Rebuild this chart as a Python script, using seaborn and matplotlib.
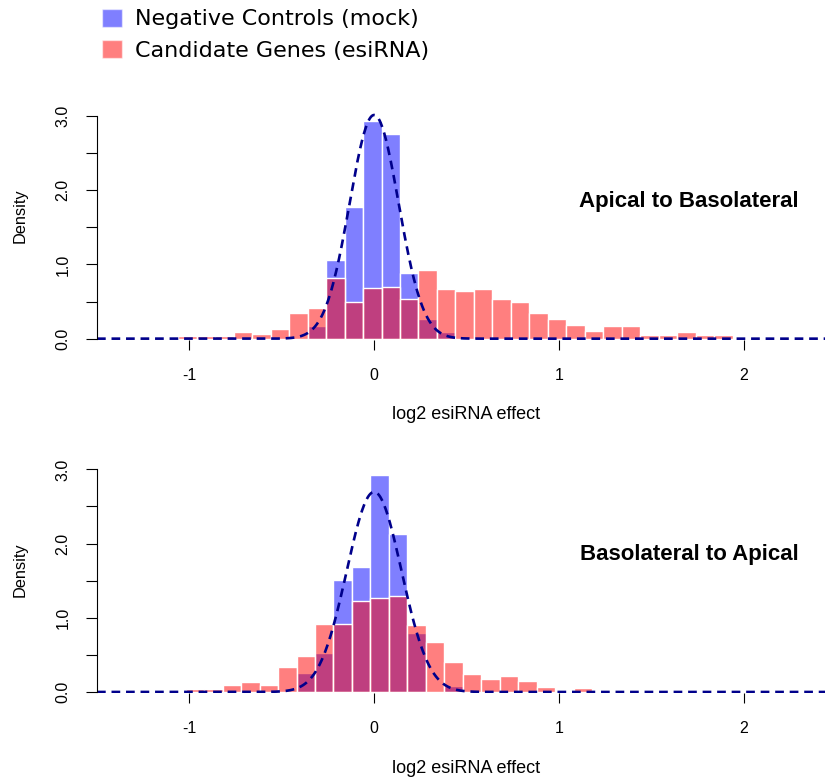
import numpy as np
import pandas as pd
import matplotlib
matplotlib.use("Agg")
import matplotlib.pyplot as plt
import seaborn as sns
from matplotlib.patches import Patch

# ---------------- data ----------------
# Panel 1: Apical to Basolateral
top_edges = [-1.06, -0.96, -0.86, -0.76, -0.66, -0.56, -0.46, -0.36, -0.26, -0.16,
             -0.06, 0.04, 0.14, 0.24, 0.34, 0.44, 0.54, 0.64, 0.74, 0.84,
             0.94, 1.04, 1.14, 1.24, 1.34, 1.44, 1.54, 1.64, 1.74, 1.84, 1.94]
top_candidate = [0.036, 0.036, 0.036, 0.086, 0.063, 0.135, 0.34, 0.41, 0.82, 0.50,
                 0.68, 0.69, 0.54, 0.925, 0.67, 0.64, 0.67, 0.53, 0.49, 0.34,
                 0.26, 0.18, 0.10, 0.17, 0.17, 0.05, 0.05, 0.086, 0.05, 0.05]
top_control = [0, 0, 0, 0, 0, 0, 0, 0.175, 1.06, 1.77,
               2.93, 2.76, 0.88, 0.265, 0.086, 0, 0, 0, 0, 0,
               0, 0, 0, 0, 0, 0, 0, 0, 0, 0]
top_mean, top_sd = 0.0, 0.1325

# Panel 2: Basolateral to Apical
bot_edges = [-1.02, -0.92, -0.82, -0.72, -0.62, -0.52, -0.42, -0.32, -0.22, -0.12,
             -0.02, 0.08, 0.18, 0.28, 0.38, 0.48, 0.58, 0.68, 0.78, 0.88,
             0.98, 1.08, 1.18]
bot_candidate = [0.036, 0.036, 0.094, 0.14, 0.094, 0.33, 0.49, 0.92, 0.91, 1.23,
                 1.26, 1.30, 0.90, 0.67, 0.40, 0.24, 0.17, 0.22, 0.15, 0.063,
                 0.0, 0.05]
bot_control = [0, 0, 0, 0, 0, 0, 0.256, 0.525, 1.51, 1.68,
               2.93, 2.13, 0.795, 0.0, 0.08, 0, 0, 0, 0, 0,
               0, 0]
bot_mean, bot_sd = 0.0, 0.148

panel_titles = ["Apical to Basolateral", "Basolateral to Apical"]
legend_labels = ["Negative Controls (mock)", "Candidate Genes (esiRNA)"]
x_ticks = [-1, 0, 1, 2]
x_ticklabels = ["-1", "0", "1", "2"]
y_ticks = [0, 1, 2, 3]
y_ticklabels = ["0.0", "1.0", "2.0", "3.0"]
y_minor = [0.5, 1.5, 2.5]
x_label = "log2 esiRNA effect"
y_label = "Density"

# ---------------- style ----------------
sns.set_theme(style="white")
plt.rcParams['font.family'] = ['Liberation Sans', 'DejaVu Sans']
plt.rcParams['text.color'] = 'black'
plt.rcParams['axes.labelcolor'] = 'black'
plt.rcParams['xtick.color'] = 'black'
plt.rcParams['ytick.color'] = 'black'

BLUE = (0, 0, 1)
RED = (1, 0, 0)
CURVE = "#00008B"

fig = plt.figure(figsize=(8.25, 7.82), dpi=100)
ax1 = fig.add_axes([97 / 825, (782 - 340) / 782, 739 / 825, 245 / 782])
ax2 = fig.add_axes([97 / 825, (782 - 693.3) / 782, 739 / 825, 244.7 / 782])


def draw(ax, edges, cand, ctrl, mu, sd, title):
    e = np.asarray(edges, dtype=float)
    centers = (e[:-1] + e[1:]) / 2
    df = pd.DataFrame({"x": centers, "ctrl": ctrl, "cand": cand})
    sns.histplot(data=df, x="x", weights="ctrl", bins=list(edges), stat="count",
                 ax=ax, color=BLUE, alpha=0.5, edgecolor="white", linewidth=1.0)
    sns.histplot(data=df, x="x", weights="cand", bins=list(edges), stat="count",
                 ax=ax, color=RED, alpha=0.5, edgecolor="white", linewidth=1.0)
    xs = np.linspace(-1.5, 2.5, 801)
    dens = np.exp(-0.5 * ((xs - mu) / sd) ** 2) / (sd * np.sqrt(2 * np.pi))
    sns.lineplot(x=xs, y=dens, ax=ax, color=CURVE, linewidth=1.9,
                 linestyle=(0, (3.3, 2.2)))
    ax.set_xlim(-1.5, 2.5)
    ax.set_ylim(-0.018, 3.28)
    for s in ["top", "right", "bottom"]:
        ax.spines[s].set_visible(False)
    ax.spines["left"].set_bounds(0, 3)
    ax.spines["left"].set_color("black")
    ax.spines["left"].set_linewidth(0.8)
    ax.set_xticks(x_ticks)
    ax.set_xticklabels(x_ticklabels, fontsize=11.5)
    ax.set_yticks(y_ticks)
    ax.set_yticklabels(y_ticklabels, fontsize=11.5, rotation=90, va="center")
    ax.set_yticks(y_minor, minor=True)
    ax.tick_params(axis="x", which="major", direction="out", length=7.2,
                   width=0.8, color="black", pad=13, bottom=True)
    ax.tick_params(axis="y", which="both", direction="out", length=7.9,
                   width=0.8, color="black", pad=11, left=True)
    ax.grid(False)
    ax.set_xlabel(x_label, fontsize=13)
    ax.xaxis.label.set_va("center")
    ax.xaxis.set_label_coords(0.5, -0.306)
    ax.set_ylabel(y_label, fontsize=11.8)
    ax.yaxis.label.set_va("center")
    ax.yaxis.label.set_ha("center")
    ax.yaxis.set_label_coords(-0.1042, 0.506)
    ax.text(1.705, 1.85, title, ha="center", va="center", fontsize=16,
            fontweight="bold")


draw(ax1, top_edges, top_candidate, top_control, top_mean, top_sd, panel_titles[0])
draw(ax2, bot_edges, bot_candidate, bot_control, bot_mean, bot_sd, panel_titles[1])

handles = [Patch(facecolor=(0, 0, 1, 0.5), edgecolor=(1, 1, 1, 0.5), linewidth=1),
           Patch(facecolor=(1, 0, 0, 0.5), edgecolor=(1, 1, 1, 0.5), linewidth=1)]
fig.legend(handles=handles, labels=legend_labels, loc="upper left",
           bbox_to_anchor=(102 / 825, 1 - 8.5 / 782), frameon=False,
           prop={"family": "DejaVu Sans", "size": 16},
           handlelength=0.9, handleheight=0.9, handletextpad=0.6,
           labelspacing=0.475, borderpad=0, borderaxespad=0)

fig.savefig("out.png", dpi=100)
